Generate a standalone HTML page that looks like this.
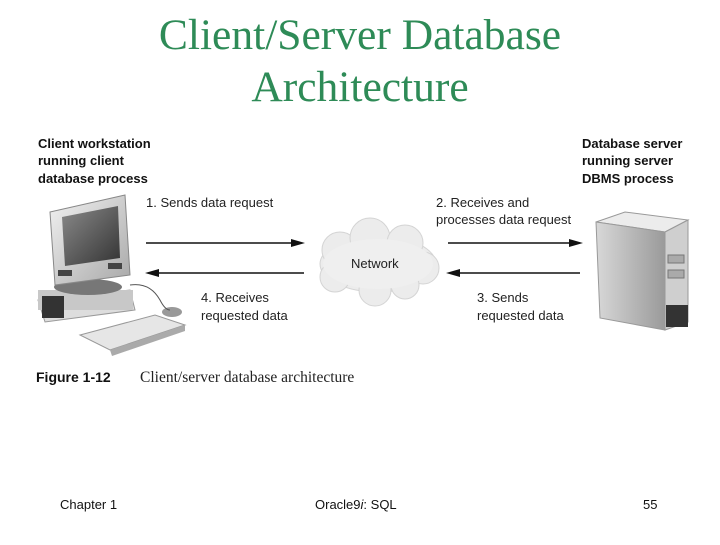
<!DOCTYPE html>
<html><head><meta charset="utf-8"><style>
body{margin:0;width:720px;height:540px;background:#fff;overflow:hidden;}
</style></head><body>
<svg width="720" height="540" xmlns="http://www.w3.org/2000/svg">
<defs>
<linearGradient id="mon" x1="0" y1="0" x2="1" y2="1"><stop offset="0" stop-color="#f2f2f2"/><stop offset="1" stop-color="#a8a8a8"/></linearGradient>
<linearGradient id="scr" x1="0" y1="0" x2="1" y2="1"><stop offset="0" stop-color="#8a8a8a"/><stop offset="1" stop-color="#333"/></linearGradient>
<linearGradient id="srv" x1="0" y1="0" x2="1" y2="0"><stop offset="0" stop-color="#d8d8d8"/><stop offset="1" stop-color="#9a9a9a"/></linearGradient>
</defs>
<g font-family="Liberation Serif, serif" font-size="43.5" fill="#2e8b57" text-anchor="middle">
<text x="360" y="49">Client/Server Database</text>
<text x="360" y="101">Architecture</text>
</g>
<g font-family="Liberation Sans, sans-serif" font-size="13" font-weight="bold" fill="#111">
<text x="38" y="148">Client workstation</text>
<text x="38" y="165">running client</text>
<text x="38" y="183">database process</text>
<text x="582" y="148">Database server</text>
<text x="582" y="165">running server</text>
<text x="582" y="183">DBMS process</text>
</g>
<g font-family="Liberation Sans, sans-serif" font-size="13" fill="#222">
<text x="146" y="207">1. Sends data request</text>
<text x="436" y="207">2. Receives and</text>
<text x="436" y="224">processes data request</text>
<text x="201" y="302">4. Receives</text>
<text x="201" y="320">requested data</text>
<text x="477" y="302">3. Sends</text>
<text x="477" y="320">requested data</text>
</g>
<g stroke="#111" stroke-width="1.5">
<line x1="146" y1="243" x2="295" y2="243"/>
<line x1="155" y1="273" x2="304" y2="273"/>
<line x1="448" y1="243" x2="572" y2="243"/>
<line x1="456" y1="273" x2="580" y2="273"/>
</g>
<g fill="#111">
<polygon points="305,243 291,239 291,247"/>
<polygon points="145,273 159,269 159,277"/>
<polygon points="583,243 569,239 569,247"/>
<polygon points="446,273 460,269 460,277"/>
</g>
<g fill="#ececec" stroke="#d4d4d4">
<ellipse cx="378" cy="264" rx="58" ry="28"/>
<circle cx="340" cy="250" r="18"/><circle cx="370" cy="238" r="20"/><circle cx="405" cy="243" r="18"/>
<circle cx="423" cy="268" r="16"/><circle cx="335" cy="277" r="15"/><circle cx="375" cy="290" r="16"/><circle cx="405" cy="285" r="14"/>
</g>
<ellipse cx="378" cy="264" rx="55" ry="25" fill="#efefef"/>
<text x="351" y="268" font-family="Liberation Sans, sans-serif" font-size="13" fill="#222">Network</text>
<polygon points="38,300 130,290 135,310 45,322" fill="#ddd" stroke="#999"/>
<rect x="38" y="290" width="95" height="20" fill="#c8c8c8"/>
<rect x="42" y="296" width="22" height="22" fill="#333"/>
<ellipse cx="88" cy="287" rx="34" ry="8" fill="#777"/>
<polygon points="50,212 125,195 130,275 55,285" fill="url(#mon)" stroke="#888"/>
<polygon points="62,217 118,206 120,258 65,266" fill="url(#scr)"/>
<rect x="58" y="270" width="14" height="6" fill="#444"/><rect x="108" y="263" width="14" height="6" fill="#444"/>
<polygon points="80,335 155,315 185,325 110,350" fill="#e6e6e6" stroke="#999"/>
<polygon points="110,350 185,325 185,331 112,356" fill="#aaa"/>
<ellipse cx="172" cy="312" rx="10" ry="5" fill="#999"/>
<path d="M130,285 Q150,282 160,300 Q165,310 170,310" stroke="#555" fill="none"/>
<polygon points="596,222 625,212 688,220 665,232" fill="#ececec" stroke="#999"/>
<polygon points="596,222 665,232 665,330 600,318" fill="url(#srv)" stroke="#999"/>
<polygon points="665,232 688,220 688,322 665,330" fill="#cfcfcf" stroke="#999"/>
<rect x="668" y="255" width="16" height="8" fill="#aaa" stroke="#777"/>
<rect x="668" y="270" width="16" height="8" fill="#aaa" stroke="#777"/>
<rect x="666" y="305" width="22" height="22" fill="#333"/>
<text x="36" y="382" font-family="Liberation Sans, sans-serif" font-size="14" font-weight="bold" fill="#111">Figure 1-12</text>
<text x="140" y="382" font-family="Liberation Serif, serif" font-size="15.5" fill="#222">Client/server database architecture</text>
<g font-family="Liberation Sans, sans-serif" font-size="13" fill="#111">
<text x="60" y="509">Chapter 1</text>
<text x="315" y="509">Oracle9<tspan font-style="italic">i</tspan>: SQL</text>
<text x="643" y="509">55</text>
</g>
</svg>
</body></html>
